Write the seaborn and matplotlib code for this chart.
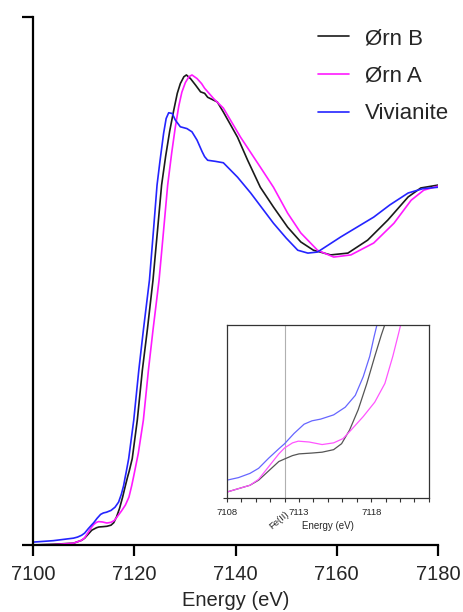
import numpy as np
import pandas as pd
import matplotlib
matplotlib.use('Agg')
import matplotlib.pyplot as plt
import seaborn as sns

# Normalised Fe K-edge XANES
ORN_B_E = [7100, 7104, 7108.0, 7108.8, 7109.6, 7110.2, 7110.9, 7111.6, 7112.0, 7112.55,
           7113.0, 7113.9, 7114.6, 7115.4, 7115.95, 7116.5, 7117.1, 7117.7, 7118.25, 7118.7,
           7119.0, 7119.6, 7120.6, 7121.6, 7122.6, 7123.7, 7124.6, 7125.4, 7126.2, 7127.0,
           7127.8, 7128.5, 7129.1, 7129.8, 7130.3, 7131.1, 7132.1, 7133.1, 7133.9, 7134.5,
           7136.4, 7137.6, 7140.4, 7142.4, 7144.9, 7147.5, 7150.3, 7152.9, 7155.4, 7158.8,
           7162.2, 7166.1, 7170.1, 7174.1, 7176.6, 7180.0]
ORN_B_MU = [0.000, 0.002, 0.005, 0.009, 0.013, 0.019, 0.030, 0.041, 0.044, 0.048,
            0.050, 0.051, 0.052, 0.055, 0.062, 0.078, 0.102, 0.133, 0.165, 0.190,
            0.205, 0.240, 0.347, 0.486, 0.600, 0.736, 0.875, 1.000, 1.080, 1.150,
            1.208, 1.255, 1.282, 1.301, 1.306, 1.296, 1.278, 1.259, 1.255, 1.244,
            1.231, 1.203, 1.133, 1.069, 0.994, 0.939, 0.883, 0.842, 0.819, 0.806,
            0.811, 0.847, 0.903, 0.967, 0.992, 1.000]

ORN_A_E = [7100, 7104, 7108.0, 7108.8, 7109.6, 7110.2, 7110.9, 7111.6, 7112.0, 7112.55,
           7112.95, 7113.7, 7114.6, 7115.4, 7116.05, 7116.6, 7117.45, 7118.25, 7118.95, 7119.5,
           7119.9, 7120.8, 7121.8, 7122.8, 7123.7, 7124.9, 7125.8, 7126.6, 7127.4, 7128.1,
           7128.8, 7129.4, 7130.1, 7130.8, 7131.4, 7132.4, 7133.3, 7133.9, 7135.7, 7137.6,
           7141.0, 7144.9, 7147.5, 7150.3, 7152.9, 7156.2, 7159.4, 7162.8, 7167.3, 7171.3,
           7174.7, 7177.2, 7180.0]
ORN_A_MU = [0.000, 0.001, 0.005, 0.009, 0.013, 0.020, 0.035, 0.050, 0.057, 0.063,
            0.065, 0.064, 0.061, 0.063, 0.068, 0.078, 0.094, 0.111, 0.133, 0.165,
            0.192, 0.255, 0.347, 0.486, 0.597, 0.736, 0.875, 1.000, 1.090, 1.160,
            1.220, 1.258, 1.285, 1.301, 1.306, 1.296, 1.282, 1.269, 1.240, 1.214,
            1.133, 1.050, 0.994, 0.922, 0.867, 0.819, 0.800, 0.806, 0.839, 0.894,
            0.958, 0.986, 0.997]

VIV_E = [7100, 7104, 7108.0, 7108.8, 7109.6, 7110.2, 7110.9, 7111.6, 7112.0, 7112.65,
         7113.35, 7113.9, 7114.5, 7115.4, 7116.2, 7116.9, 7117.45, 7117.9, 7118.2, 7118.4,
         7118.9, 7119.9, 7120.9, 7121.8, 7123.0, 7123.8, 7124.5, 7125.1, 7125.8, 7126.3,
         7126.8, 7127.5, 7128.1, 7129.1, 7130.4, 7131.4, 7132.4, 7133.4, 7133.9, 7134.5,
         7136.0, 7137.6, 7140.4, 7143.0, 7147.5, 7150.0, 7152.3, 7154.3, 7156.2, 7160.8,
         7167.3, 7170.5, 7174.1, 7177.0, 7180.0]
VIV_MU = [0.008, 0.012, 0.019, 0.022, 0.027, 0.033, 0.045, 0.056, 0.062, 0.074,
          0.085, 0.089, 0.091, 0.096, 0.105, 0.119, 0.141, 0.165, 0.188, 0.202,
          0.240, 0.347, 0.486, 0.597, 0.736, 0.875, 1.000, 1.069, 1.144, 1.185,
          1.201, 1.199, 1.181, 1.162, 1.157, 1.148, 1.125, 1.093, 1.079, 1.069,
          1.066, 1.062, 1.022, 0.978, 0.894, 0.853, 0.819, 0.811, 0.814, 0.856,
          0.911, 0.945, 0.978, 0.990, 0.994]

SERIES = [
    ('Ørn B', ORN_B_E, ORN_B_MU, '#1a1a1a', '#555555'),
    ('Ørn A', ORN_A_E, ORN_A_MU, '#ff1aff', '#ff55ff'),
    ('Vivianite', VIV_E, VIV_MU, '#2424ff', '#6666ff'),
]

MAIN_TICKS = [7100, 7120, 7140, 7160, 7180]
INSET_TICKS = list(range(7108, 7123))
INSET_LABELS = {7108: '7108', 7113: '7113', 7118: '7118'}
FE2_EDGE = 7112


def plot_xanes():
    sns.set_style('ticks')
    plt.rcParams['font.family'] = ['Liberation Sans', 'DejaVu Sans']

    fig = plt.figure(figsize=(4.63, 6.12), dpi=100)
    ax = fig.add_axes([0.0713, 0.1095, 0.8747, 0.8627])

    for name, e, mu, col, _ in SERIES:
        sns.lineplot(x=e, y=mu, ax=ax, color=col, lw=1.2, label=name,
                     estimator=None, sort=False)

    ax.set_xlim(7100, 7180)
    ax.set_ylim(0, 1.467)
    ax.set_xticks(MAIN_TICKS)
    ax.set_yticks([0, 1.467])
    ax.set_yticklabels([])
    for s in ['top', 'right']:
        ax.spines[s].set_visible(False)
    for s in ['left', 'bottom']:
        ax.spines[s].set_linewidth(1.6)
        ax.spines[s].set_color('black')
    ax.tick_params(axis='both', length=8, width=1.6, color='black', direction='out')
    ax.tick_params(axis='x', labelsize=14.5, pad=6.5)
    ax.set_xlabel('Energy (eV)', fontsize=14.5, labelpad=5)
    ax.set_ylabel('')

    ax.legend(loc='upper left', bbox_to_anchor=(0.687, 0.954),
              bbox_transform=fig.transFigure, frameon=False, fontsize=16,
              handlelength=1.4, handletextpad=0.7, labelspacing=0.75,
              borderpad=0, borderaxespad=0)

    # inset: pre-edge region
    ins = fig.add_axes([0.490, 0.1863, 0.4363, 0.2827])
    for name, e, mu, _, col in SERIES:
        sns.lineplot(x=e, y=mu, ax=ins, color=col, lw=0.9, legend=False,
                     estimator=None, sort=False)
    ins.axvline(FE2_EDGE, color='#b0b0b0', lw=0.8, zorder=0)
    ins.set_xlim(7108, 7122)
    ins.set_ylim(-0.002, 0.202)
    ins.set_xticks(INSET_TICKS)
    ins.set_xticklabels([INSET_LABELS.get(t, '') for t in INSET_TICKS])
    ins.set_yticks([-0.002])
    ins.set_yticklabels([])
    for s in ins.spines.values():
        s.set_linewidth(0.9)
        s.set_color('#333333')
    ins.tick_params(axis='both', length=3, width=0.8, color='#333333', direction='out')
    ins.tick_params(axis='x', labelsize=6.8, pad=4)
    ins.set_xlabel('Energy (eV)', fontsize=7, labelpad=3)
    ins.set_ylabel('')
    ins.text(FE2_EDGE, -0.016, 'Fe(II)', rotation=40, fontsize=6.8,
             ha='right', va='top', rotation_mode='anchor')

    fig.savefig('out.png', dpi=100)


if __name__ == '__main__':
    plot_xanes()
